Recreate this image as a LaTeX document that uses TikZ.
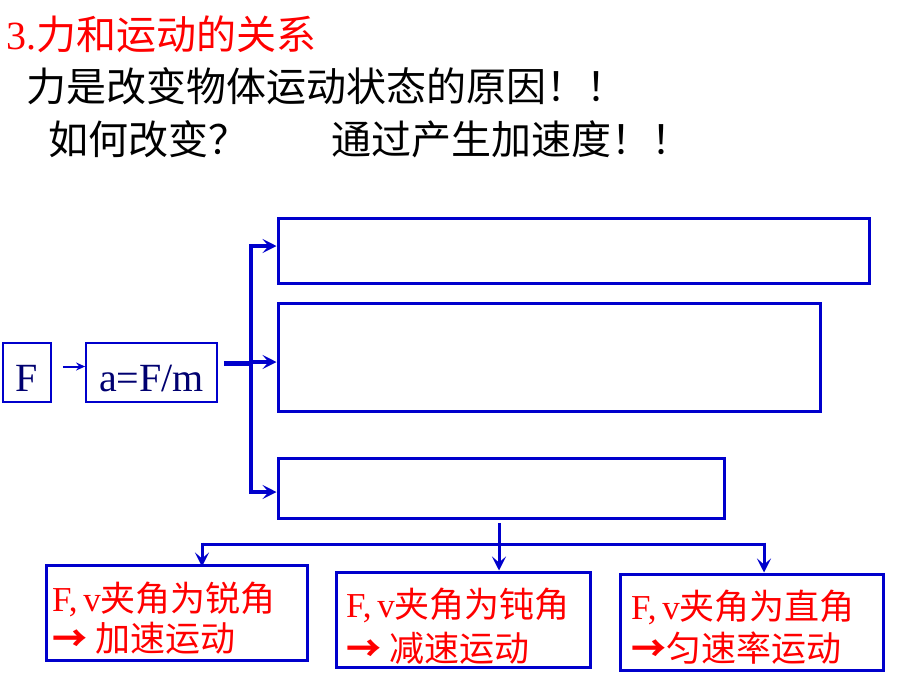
\documentclass[tikz,border=0pt]{standalone}
\usepackage{fontspec}
\setmainfont{Liberation Serif}
\newfontfamily\cjk{Noto Sans CJK SC}
\usetikzlibrary{arrows.meta}
\definecolor{lineblue}{HTML}{0000CC}
\definecolor{navy}{HTML}{000070}
\definecolor{redtxt}{HTML}{FF0000}
\newcommand{\rarr}{{\bfseries →}}
\begin{document}
\begin{tikzpicture}[x=1pt,y=-1pt,
  box/.style={draw=lineblue,line width=3pt,inner sep=0pt},
  sbox/.style={draw=lineblue,line width=1.8pt,inner sep=0pt,text=navy,
    font=\fontsize{40}{48}\selectfont,text height=40pt,text depth=3pt,minimum height=59pt},
  bigtxt/.style={font=\fontsize{40}{48}\selectfont,inner sep=0pt,anchor=base west},
  boxtxt/.style={font=\fontsize{35}{42}\selectfont,inner sep=0pt,anchor=base west,text=redtxt},
  conn/.style={draw=lineblue,line width=3pt},
  arrowhd/.style={-{Stealth[length=14pt,width=14pt,inset=6pt]}},
]
\useasboundingbox (0,0) rectangle (900,675);
% header texts
\node[bigtxt,text=redtxt] (title) at (6,49) {3.{\cjk 力和运动的关系}};
\node[bigtxt] (l1) at (26,101) {\cjk 力是改变物体运动状态的原因！！};
\node[bigtxt] (l2a) at (48,154) {\cjk 如何改变？};
\node[bigtxt] (l2b) at (331,154) {\cjk 通过产生加速度！！};
% left chain
\node[sbox,minimum width=48pt] (F) at (27,372.5) {F};
\node[sbox,minimum width=131pt] (aF) at (151.5,372.5) {a=F/m};
% right empty boxes
\node[box,minimum width=591pt,minimum height=65pt] (R1) at (573.5,250.5) {};
\node[box,minimum width=542pt,minimum height=108pt] (R2) at (549,357.5) {};
\node[box,minimum width=446pt,minimum height=60pt] (R3) at (501,488) {};
% bottom boxes
\node[box,minimum width=261pt,minimum height=95pt] (B1) at (176.5,612.5) {};
\node[box,minimum width=254pt,minimum height=95pt] (B2) at (463,619.5) {};
\node[box,minimum width=263pt,minimum height=96pt] (B3) at (751.5,622) {};
% bottom box texts
\node[boxtxt] (t1a) at (52,611) {F,\,v{\cjk 夹角为锐角}};
\node[boxtxt] (t1b) at (52,651) {\cjk \rarr{} 加速运动};
\node[boxtxt] (t2a) at (346,617) {F,\,v{\cjk 夹角为钝角}};
\node[boxtxt] (t2b) at (346,661) {\cjk \rarr{} 减速运动};
\node[boxtxt] (t3a) at (631,619) {F,\,v{\cjk 夹角为直角}};
\node[boxtxt] (t3b) at (631,661) {\cjk \rarr 匀速率运动};
% connectors
\coordinate (j) at (251,363);
\coordinate (b1) at (251,246);
\coordinate (b2) at (251,362);
\coordinate (b3) at (251,492);
\draw[conn,line width=2pt,-{Stealth[length=9pt,width=8pt,inset=3pt]}]
  ([xshift=11pt,yshift=6pt]F.east) -- ([yshift=6pt]aF.west);
\draw[conn,line width=5pt] ([xshift=6pt,yshift=9.5pt]aF.east) -- (j);
\draw[conn,line width=4pt] (b3) -- (b1);
\draw[conn,line width=4pt,arrowhd] ([xshift=-2pt]b1) -- (R1.west |- b1);
\draw[conn,line width=4pt,arrowhd] (b2) -- (R2.west |- b2);
\draw[conn,line width=4pt,arrowhd] ([xshift=-2pt]b3) -- (R3.west |- b3);
\coordinate (s) at (499,523);
\coordinate (bl) at (202,544);
\coordinate (br) at (764,544);
\draw[conn] (bl) -- (br);
\draw[conn,arrowhd] (s) -- (s |- B2.north);
\draw[conn,arrowhd] ([yshift=1.5pt]bl) -- ([yshift=-3pt]bl |- B1.north);
\draw[conn,arrowhd] ([yshift=1.5pt]br) -- (br |- B3.north);
\end{tikzpicture}
\end{document}
